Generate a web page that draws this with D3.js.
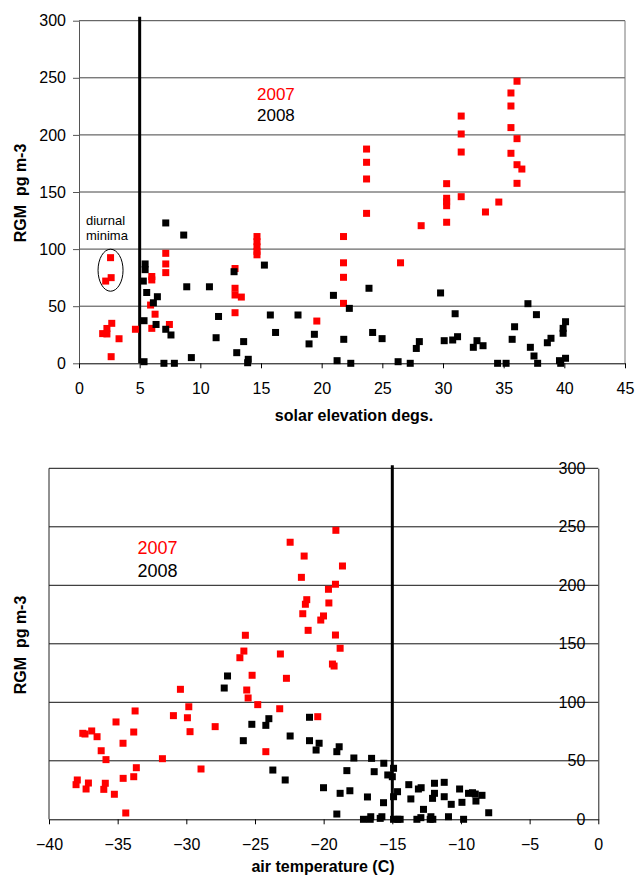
<!DOCTYPE html>
<html>
<head>
<meta charset="utf-8">
<script src="https://cdn.jsdelivr.net/npm/d3@7"></script>
<style>
  html, body { margin: 0; padding: 0; background: #fff; }
  svg { display: block; }
  text { font-family: "Liberation Sans", Arial, sans-serif; }
  .keep-space { white-space: pre; }
</style>
</head>
<body>
<svg id="chart" width="637" height="877"></svg>
<script>
// RGM concentration (pg m-3) against solar elevation (degrees), 2007 and 2008
const elev2007 = [
  [2.6, 92.5], [2.65, 75], [2.2, 72],
  [1.95, 26], [2.3, 30.5], [2.3, 25.7], [2.7, 35], [3.3, 21.5], [2.65, 5.8], [4.65, 29.8],
  [6.0, 76], [6.0, 73], [5.9, 51], [6.27, 43], [6.0, 30.6],
  [7.15, 96.3], [7.15, 87], [7.15, 79.4], [7.45, 34],
  [12.86, 83], [12.86, 65.7], [12.86, 59.8], [13.38, 58], [12.86, 44.3],
  [14.67, 111], [14.67, 106.5], [14.67, 102], [14.67, 98], [14.67, 95],
  [19.6, 37],
  [21.8, 111], [21.8, 88], [21.8, 75.3], [21.8, 52.5],
  [23.7, 187.6], [23.7, 176], [23.7, 161.4], [23.7, 131.3],
  [26.5, 88], [28.2, 120.5],
  [30.3, 157.3], [30.3, 144.5], [30.3, 141.5], [30.3, 138], [30.3, 123.5],
  [31.5, 216.5], [31.5, 200.8], [31.5, 185], [31.5, 145.9],
  [33.5, 132.5], [34.6, 141.2],
  [35.6, 236.7], [35.6, 225.3], [35.6, 206.4], [35.6, 183.9],
  [36.1, 247], [36.1, 196.7], [36.1, 173.9], [36.5, 170.1], [36.1, 157.6]
];
const elev2008 = [
  [7.15, 122.9], [8.63, 112.3], [5.45, 87], [5.45, 82], [5.3, 72], [5.58, 62],
  [6.46, 58.3], [6.13, 53], [5.36, 37.3], [6.35, 34], [7.15, 29.8], [7.58, 24.8],
  [5.36, 1.4], [7.0, 0], [7.86, 0], [9.26, 5], [8.88, 67], [10.75, 67], [11.5, 41], [11.3, 22.4],
  [12.78, 80.2], [13.0, 9.3], [13.57, 19], [13.95, 3.5], [13.9, 0.5], [15.28, 86],
  [15.77, 42.3], [16.2, 27], [18.05, 42.3], [18.96, 17], [19.4, 25.4], [20.97, 59.5],
  [21.27, 2.3], [22.28, 48.1], [21.82, 21], [22.4, 0], [23.9, 65.7], [24.2, 27],
  [24.98, 21.6], [26.3, 1.4], [27.3, 0], [27.8, 13], [28.05, 19],
  [29.8, 61.6], [30.1, 19.8], [31.0, 43.4], [30.8, 20.4], [31.2, 23.3], [32.5, 14],
  [32.8, 19.8], [33.3, 15.4], [34.5, 0], [35.2, 0], [35.7, 21], [35.9, 32],
  [37.0, 52.2], [37.7, 42.6], [37.2, 14], [37.5, 6.4], [37.8, 0], [38.6, 18],
  [38.9, 21.9], [39.6, 2.3], [39.7, 0], [40.1, 4.4], [39.9, 26.3], [39.9, 30.6], [40.1, 36.4]
];

// RGM concentration (pg m-3) against air temperature (C)
const temp2007 = [
  [-30.43, 111.1], [-29.82, 96.2], [-30.94, 88.6], [-29.92, 86.8], [-29.73, 74.9], [-27.9, 79.2],
  [-33.73, 92.6], [-35.12, 83.2], [-33.83, 74.6], [-34.61, 65], [-37.54, 73.5], [-37.38, 72.9],
  [-36.89, 75.5], [-36.5, 70.6], [-36.2, 58.6], [-35.85, 51], [-31.74, 51.8], [-33.64, 44.1],
  [-28.93, 43], [-33.83, 36.4], [-34.6, 35], [-37.94, 33.6], [-38.03, 29.6], [-37.13, 31],
  [-37.3, 25.9], [-35.9, 30.8], [-36.01, 25.6], [-35.24, 21.4], [-34.41, 5.4],
  [-19.11, 247], [-22.44, 236.8], [-21.42, 225], [-18.63, 216.5], [-21.62, 206.8],
  [-19.65, 196.6], [-19.14, 200.9], [-21.23, 187.7], [-21.33, 183.8], [-19.62, 184.9],
  [-21.52, 175.7], [-20.01, 173.8], [-20.21, 170.3], [-21.13, 161.5], [-19.14, 157.5],
  [-18.8, 146.2], [-19.36, 132.7], [-19.24, 131], [-25.7, 157.3], [-25.81, 143.8],
  [-26.1, 138.1], [-23.15, 141.3], [-25.21, 123.1], [-22.71, 120.5], [-25.6, 110.5],
  [-25.5, 103.7], [-24.8, 98], [-23.2, 94.5], [-20.43, 87.7], [-24.21, 57.8]
];
const temp2008 = [
  [-27.0, 122.5], [-27.24, 112.2], [-23.99, 86], [-24.21, 80.3], [-25.23, 81.2], [-21.03, 87.2],
  [-25.85, 67.2], [-22.44, 71.2], [-21.03, 67.2], [-20.33, 65], [-20.55, 59.2], [-18.87, 62],
  [-19.04, 57.8], [-17.8, 52.4], [-16.51, 52.1], [-15.62, 47.9], [-14.91, 43.6], [-15.33, 37.9],
  [-15.0, 36.4], [-23.7, 42.1], [-22.8, 33.6], [-18.31, 41.6], [-16.32, 40.7], [-20.01, 27],
  [-18.09, 24.4], [-18.8, 22.2], [-16.81, 19.1], [-15.64, 14.2], [-14.91, 19.3], [-14.62, 23.6],
  [-13.8, 29.6], [-13.65, 17.4], [-13.1, 25.9], [-12.9, 27], [-19.04, 4.5], [-17.1, 0],
  [-16.57, 2.2], [-16.61, 0], [-15.88, 0.8], [-15.76, 2.2], [-14.91, 0], [-14.6, 0],
  [-14.43, 0], [-13.21, 0], [-12.92, 1.4], [-12.73, 8.5], [-12.24, 0], [-12.05, 0],
  [-12.19, 2.2], [-11.93, 30.8], [-11.93, 22.2], [-12.07, 17.9], [-11.22, 31.6], [-11.22, 19.3],
  [-10.91, 2.2], [-10.71, 12.8], [-10.1, 25.9], [-9.93, 14.5], [-9.81, 0], [-9.45, 22.2],
  [-9.16, 22.7], [-8.96, 21.6], [-8.91, 15.6], [-8.47, 20.5], [-7.98, 5.6]
];

const yTicks = [0, 50, 100, 150, 200, 250, 300];
const elevTicks = [0, 5, 10, 15, 20, 25, 30, 35, 40, 45];
const tempTicks = [-40, -35, -30, -25, -20, -15, -10, -5, 0];
const seriesNames = ["2007", "2008"];
const seriesColors = ["#ff0000", "#000000"];
const elevMarker = 5;    // solar elevation reference line (degs)
const tempMarker = -15;  // air temperature reference line (C)
const yTitle = "RGM  pg m-3";

const svg = d3.select("#chart");
svg.append("rect").attr("width", 637).attr("height", 877).attr("fill", "#fff");

const MS = 7; // marker side

function drawPoints(g, data, x, y, color) {
  g.selectAll(null).data(data).enter().append("rect")
    .attr("x", d => x(d[0]) - MS / 2)
    .attr("y", d => y(d[1]) - MS / 2)
    .attr("width", MS).attr("height", MS)
    .attr("fill", color);
}

// ---------- Top panel: solar elevation ----------
{
  const x = d3.scaleLinear().domain([0, 45]).range([79, 625]);
  const y = d3.scaleLinear().domain([0, 300]).range([363.3, 20.7]);
  const g = svg.append("g");

  // gridlines
  g.selectAll(null).data(yTicks.filter(v => v > 0)).enter().append("line")
    .attr("x1", x(0)).attr("x2", x(45))
    .attr("y1", d => y(d)).attr("y2", d => y(d))
    .attr("stroke", "#444").attr("stroke-width", 1);
  // right border
  g.append("line").attr("x1", x(45)).attr("x2", x(45))
    .attr("y1", y(300)).attr("y2", y(0))
    .attr("stroke", "#777").attr("stroke-width", 1);

  // y axis
  const ya = g.append("g").attr("transform", `translate(${x(0)},0)`)
    .call(d3.axisLeft(y).tickValues(yTicks).tickSize(6).tickPadding(7).tickSizeOuter(0));
  ya.select(".domain").attr("stroke", "#555");
  ya.selectAll(".tick line").attr("stroke", "#555");
  ya.selectAll("text").attr("font-size", 16).attr("fill", "#000")
    .attr("font-family", "Liberation Sans, Arial, sans-serif");

  // x axis
  const xa = g.append("g").attr("transform", `translate(0,${y(0)})`)
    .call(d3.axisBottom(x).tickValues(elevTicks).tickSize(5).tickPadding(14).tickSizeOuter(0));
  xa.select(".domain").attr("stroke", "#000");
  xa.selectAll(".tick line").attr("stroke", "#000");
  xa.selectAll("text").attr("font-size", 16).attr("fill", "#000")
    .attr("font-family", "Liberation Sans, Arial, sans-serif");

  // reference line
  g.append("line").attr("x1", x(elevMarker)).attr("x2", x(elevMarker))
    .attr("y1", y(300) - 4).attr("y2", y(0))
    .attr("stroke", "#000").attr("stroke-width", 3);

  drawPoints(g, elev2007, x, y, seriesColors[0]);
  drawPoints(g, elev2008, x, y, seriesColors[1]);

  // annotation
  g.append("ellipse").attr("cx", x(2.6)).attr("cy", y(81.5)).attr("rx", 12.5).attr("ry", 21)
    .attr("fill", "none").attr("stroke", "#000").attr("stroke-width", 1);
  g.append("text").attr("x", 86).attr("y", 225).attr("font-size", 13).text("diurnal");
  g.append("text").attr("x", 86).attr("y", 240).attr("font-size", 13).text("minima");

  // legend
  seriesNames.forEach((n, i) => {
    g.append("text").attr("x", 257).attr("y", 100 + i * 21).attr("font-size", 17)
      .attr("fill", seriesColors[i]).text(n);
  });

  // titles
  g.append("text").attr("x", x(22.5) + 2).attr("y", 421).attr("text-anchor", "middle")
    .attr("font-size", 16).attr("font-weight", "bold").text("solar elevation degs.");
  g.append("text").attr("class", "keep-space").attr("transform", "translate(26,193) rotate(-90)")
    .attr("text-anchor", "middle").attr("font-size", 16).attr("font-weight", "bold").text(yTitle);
}

// ---------- Bottom panel: air temperature ----------
{
  const x = d3.scaleLinear().domain([-40, 0]).range([49, 598.3]);
  const y = d3.scaleLinear().domain([0, 300]).range([819.3, 468.3]);
  const g = svg.append("g");

  // gridlines
  g.selectAll(null).data(yTicks.filter(v => v > 0)).enter().append("line")
    .attr("x1", x(-40)).attr("x2", x(0))
    .attr("y1", d => y(d)).attr("y2", d => y(d))
    .attr("stroke", "#111").attr("stroke-width", 1);
  // left border
  g.append("line").attr("x1", x(-40)).attr("x2", x(-40))
    .attr("y1", y(300)).attr("y2", y(0))
    .attr("stroke", "#222").attr("stroke-width", 1);

  // x axis
  const xa = g.append("g").attr("transform", `translate(0,${y(0)})`)
    .call(d3.axisBottom(x).tickValues(tempTicks).tickSize(5).tickPadding(14).tickSizeOuter(0));
  xa.select(".domain").attr("stroke", "#000");
  xa.selectAll(".tick line").attr("stroke", "#000");
  xa.selectAll("text").attr("font-size", 16).attr("fill", "#000")
    .attr("font-family", "Liberation Sans, Arial, sans-serif");

  // reference line
  g.append("line").attr("x1", x(tempMarker)).attr("x2", x(tempMarker))
    .attr("y1", y(300) - 3).attr("y2", y(0))
    .attr("stroke", "#000").attr("stroke-width", 3);

  drawPoints(g, temp2007, x, y, seriesColors[0]);
  drawPoints(g, temp2008, x, y, seriesColors[1]);

  // y axis at x = 0, labels sit on the gridlines
  const ya = g.append("g").attr("transform", `translate(${x(0)},0)`)
    .call(d3.axisLeft(y).tickValues(yTicks).tickSize(0).tickPadding(13).tickSizeOuter(0));
  ya.select(".domain").attr("stroke", "#222");
  ya.selectAll("text").attr("font-size", 16).attr("fill", "#000")
    .attr("font-family", "Liberation Sans, Arial, sans-serif");

  // legend
  seriesNames.forEach((n, i) => {
    g.append("text").attr("x", 137.5).attr("y", 554 + i * 22.5).attr("font-size", 18)
      .attr("fill", seriesColors[i]).text(n);
  });

  // titles
  g.append("text").attr("x", 323).attr("y", 872).attr("text-anchor", "middle")
    .attr("font-size", 16).attr("font-weight", "bold").text("air temperature (C)");
  g.append("text").attr("class", "keep-space").attr("transform", "translate(26,645) rotate(-90)")
    .attr("text-anchor", "middle").attr("font-size", 16).attr("font-weight", "bold").text(yTitle);
}
</script>
</body>
</html>
